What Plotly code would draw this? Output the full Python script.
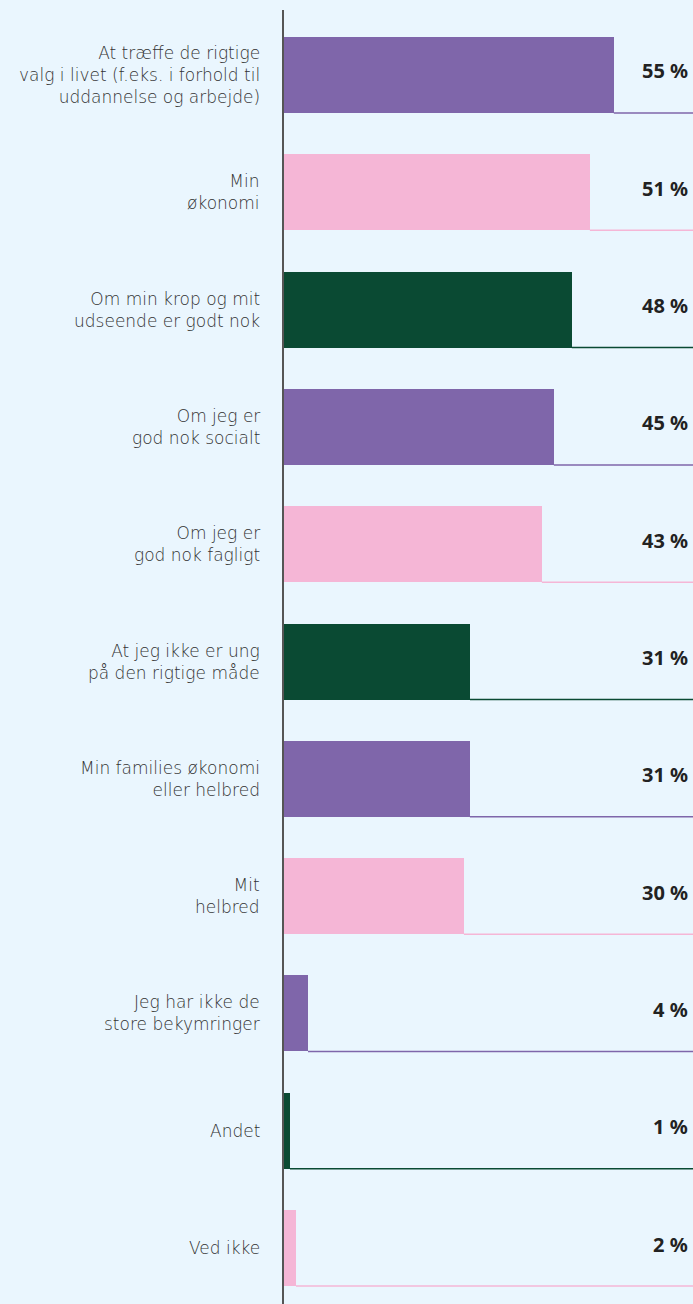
import plotly.graph_objects as go

labels = [
    "At træffe de rigtige<br>valg i livet (f.eks. i forhold til<br>uddannelse og arbejde)",
    "Min<br>økonomi",
    "Om min krop og mit<br>udseende er godt nok",
    "Om jeg er<br>god nok socialt",
    "Om jeg er<br>god nok fagligt",
    "At jeg ikke er ung<br>på den rigtige måde",
    "Min families økonomi<br>eller helbred",
    "Mit<br>helbred",
    "Jeg har ikke de<br>store bekymringer",
    "Andet",
    "Ved ikke",
]
values = [55, 51, 48, 45, 43, 31, 31, 30, 4, 1, 2]
value_text = ["55 %", "51 %", "48 %", "45 %", "43 %", "31 %", "31 %", "30 %", "4 %", "1 %", "2 %"]

purple = "#7F66AA"
pink = "#F5B6D6"
green = "#0A4A33"
colors = [purple, pink, green, purple, pink, green, purple, pink, purple, green, pink]

bg = "#EAF6FE"
xmax = 68.2
bar_w = 0.648
pos = list(range(len(values)))

fig = go.Figure()

fig.add_trace(go.Bar(
    x=values, y=pos, orientation="h", width=bar_w,
    marker=dict(color=colors, line_width=0),
    hoverinfo="skip", showlegend=False,
))

# thin baseline under each bar, running to the right edge
for i, v in enumerate(values):
    fig.add_trace(go.Scatter(
        x=[v, xmax], y=[i + bar_w / 2, i + bar_w / 2], mode="lines",
        line=dict(color=colors[i], width=1.5),
        hoverinfo="skip", showlegend=False,
    ))

for i, lab in enumerate(labels):
    fig.add_annotation(
        x=0, y=i, xref="paper", yref="y", text=lab, showarrow=False,
        xanchor="right", yanchor="middle", align="right", xshift=-22,
        font=dict(family="DejaVu Sans", size=17, color="#333333", weight=300),
    )
    fig.add_annotation(
        x=1, y=i, xref="paper", yref="y", text="<b>" + value_text[i] + "</b>",
        showarrow=False, xanchor="right", yanchor="middle", xshift=-3, yshift=4,
        font=dict(family="Noto Sans", size=20, color="#222222"),
    )

fig.update_layout(
    width=693, height=1304,
    margin=dict(l=284, r=0, t=10, b=0),
    paper_bgcolor=bg, plot_bgcolor=bg,
    bargap=0,
)
fig.update_xaxes(range=[0, xmax], visible=False, fixedrange=True)
fig.update_yaxes(range=[len(values) - 1 + 0.477, -0.554], showticklabels=False,
                 showgrid=False, zeroline=False, showline=True,
                 linecolor="#555555", linewidth=1.5, ticks="")

fig.write_html("out.html", config={"displayModeBar": False},
               post_script="document.body.style.margin='0';document.body.style.background='%s';" % bg)
